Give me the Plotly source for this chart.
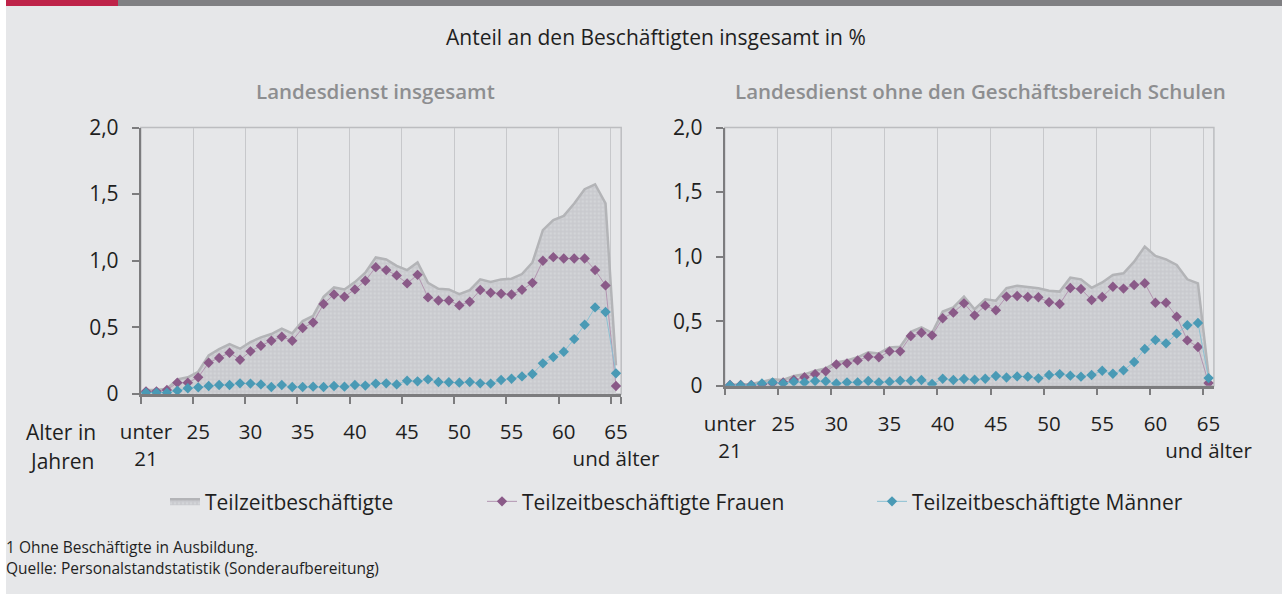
import plotly.graph_objects as go

# ---------------- data ----------------
categories = ["unter 21"] + [str(a) for a in range(21, 65)] + ["65 und älter"]
tick_cats = ["unter 21", "25", "30", "35", "40", "45", "50", "55", "60", "65 und älter"]
tick_text = ["unter<br>21", "25", "30", "35", "40", "45", "50", "55", "60", "65<br>und älter"]
y_vals = [0, 0.5, 1.0, 1.5, 2.0]
y_text = ["0", "0,5", "1,0", "1,5", "2,0"]

# Landesdienst insgesamt
gesamt_L = [0.03, 0.03, 0.04, 0.11, 0.125, 0.167, 0.29, 0.337, 0.375, 0.34, 0.39, 0.425, 0.45, 0.49,
            0.455, 0.547, 0.587, 0.73, 0.80, 0.785, 0.84, 0.91, 1.025, 1.01, 0.962, 0.93,
            0.987, 0.834, 0.79, 0.785, 0.75, 0.78, 0.86, 0.84, 0.86, 0.865, 0.9, 0.987, 1.23,
            1.305, 1.337, 1.43, 1.537, 1.574, 1.43, 0.215]
frauen_L = [0.02, 0.02, 0.03, 0.085, 0.085, 0.125, 0.235, 0.27, 0.31, 0.257, 0.32, 0.362, 0.40, 0.43,
            0.40, 0.495, 0.537, 0.675, 0.747, 0.73, 0.785, 0.85, 0.952, 0.93, 0.89, 0.83,
            0.894, 0.725, 0.702, 0.702, 0.665, 0.692, 0.78, 0.76, 0.752, 0.747, 0.782, 0.834, 1.0,
            1.027, 1.017, 1.017, 1.017, 0.93, 0.815, 0.06]
maenner_L = [0.01, 0.01, 0.01, 0.025, 0.043, 0.05, 0.06, 0.068, 0.068, 0.08, 0.078, 0.072, 0.052, 0.068,
             0.052, 0.052, 0.055, 0.052, 0.06, 0.055, 0.068, 0.063, 0.078, 0.08, 0.072,
             0.1, 0.095, 0.11, 0.09, 0.088, 0.085, 0.09, 0.08, 0.078, 0.105, 0.115, 0.132, 0.15,
             0.23, 0.277, 0.317, 0.412, 0.52, 0.65, 0.615, 0.155]

# Landesdienst ohne den Geschäftsbereich Schulen
gesamt_R = [0.008, 0.008, 0.013, 0.03, 0.049, 0.044, 0.075, 0.088, 0.116, 0.134, 0.18, 0.196, 0.22,
            0.258, 0.25, 0.297, 0.302, 0.418, 0.452, 0.41, 0.574, 0.607, 0.69, 0.592, 0.669, 0.659, 0.755,
            0.775, 0.767, 0.755, 0.736, 0.729, 0.837, 0.824, 0.758, 0.80, 0.858, 0.871, 0.961, 1.078,
            1.005, 0.979, 0.935, 0.824, 0.793, 0.08]
frauen_R = [0.005, 0.005, 0.005, 0.01, 0.02, 0.025, 0.044, 0.065, 0.09, 0.111, 0.165, 0.173, 0.196,
            0.225, 0.22, 0.266, 0.266, 0.385, 0.41, 0.39, 0.522, 0.566, 0.638, 0.545, 0.62, 0.584, 0.69,
            0.695, 0.687, 0.685, 0.646, 0.633, 0.757, 0.749, 0.664, 0.687, 0.767, 0.752, 0.78, 0.793,
            0.643, 0.643, 0.535, 0.351, 0.30, 0.02]
maenner_R = [0.003, 0.003, 0.003, 0.018, 0.026, 0.018, 0.031, 0.026, 0.036, 0.034, 0.018, 0.026, 0.026,
             0.036, 0.026, 0.031, 0.039, 0.039, 0.044, 0.013, 0.054, 0.044, 0.052, 0.047, 0.054, 0.075, 0.064,
             0.072, 0.07, 0.057, 0.083, 0.09, 0.078, 0.07, 0.083, 0.116, 0.093, 0.119, 0.183, 0.284,
             0.354, 0.328, 0.403, 0.468, 0.486, 0.059]

series_names = ["Teilzeitbeschäftigte", "Teilzeitbeschäftigte Frauen", "Teilzeitbeschäftigte Männer"]
title_text = "Anteil an den Beschäftigten insgesamt in %"
panel_titles = ["Landesdienst insgesamt", "Landesdienst ohne den Geschäftsbereich Schulen"]
x_caption = ["Alter in", "Jahren"]
footnotes = ["1 Ohne Beschäftigte in Ausbildung.", "Quelle: Personalstandstatistik (Sonderaufbereitung)"]

# ---------------- style ----------------
W, H = 1282, 594
FONT = "Open Sans"
BG = "#e6e7e9"
TXT = "#1f1f1f"
AXIS = "#7c7c7e"
GRID = "#c7c8cb"
AREA_LINE = "#b3b4b7"
PURPLE = "#8a5a88"
PURPLE_L = "#b395b1"
BLUE = "#4a9ab5"
BLUE_L = "#8cc0d2"


def px_x(p):
    return p / W


def px_y(p):
    return 1 - p / H


fig = go.Figure()

panels = [
    dict(xa="x", ya="y", g=gesamt_L, f=frauen_L, m=maenner_L, legend=True),
    dict(xa="x2", ya="y2", g=gesamt_R, f=frauen_R, m=maenner_R, legend=False),
]

for p in panels:
    fig.add_trace(go.Scatter(
        x=categories, y=p["g"], xaxis=p["xa"], yaxis=p["ya"], mode="lines",
        line=dict(color=AREA_LINE, width=2.5), fill="tozeroy", fillcolor="#cbccd0",
        fillpattern=dict(shape=".", fgcolor="#dedfe2", bgcolor="#c9cace", size=4, solidity=0.35),
        name=series_names[0], showlegend=p["legend"], legend="legend", hoverinfo="skip"))
    fig.add_trace(go.Scatter(
        x=categories, y=p["f"], xaxis=p["xa"], yaxis=p["ya"], mode="lines+markers",
        line=dict(color=PURPLE_L, width=1), marker=dict(symbol="diamond", size=8, color=PURPLE),
        name=series_names[1], showlegend=p["legend"], legend="legend2"))
    fig.add_trace(go.Scatter(
        x=categories, y=p["m"], xaxis=p["xa"], yaxis=p["ya"], mode="lines+markers",
        line=dict(color=BLUE_L, width=1), marker=dict(symbol="diamond", size=8, color=BLUE),
        name=series_names[2], showlegend=p["legend"], legend="legend3"))

xdoms = [[px_x(140.8), px_x(621.2)], [px_x(724.7), px_x(1213.9)]]
ydoms = [[px_y(394), px_y(127.5)], [px_y(385.7), px_y(127.5)]]

common_x = dict(
    type="category", categoryorder="array", categoryarray=categories,
    range=[-0.5, len(categories) - 0.5], tickson="boundaries",
    tickmode="array", tickvals=tick_cats, ticktext=tick_text, tickangle=0,
    ticks="outside", ticklen=7, tickwidth=1.5, tickcolor=AXIS,
    showgrid=True, gridcolor=GRID, gridwidth=1, automargin=False,
    showline=True, linecolor=AXIS, linewidth=2.5, zeroline=False,
    tickfont=dict(family=FONT, size=20.5, color=TXT), ticklabelstandoff=18,
)
common_y = dict(
    range=[0, 2.0], tickmode="array", tickvals=y_vals, ticktext=y_text,
    ticks="outside", ticklen=7, tickwidth=1.5, tickcolor=AXIS, automargin=False,
    showgrid=False, showline=True, linecolor=AXIS, linewidth=2, zeroline=False,
    tickfont=dict(family=FONT, size=21, color=TXT), ticklabelstandoff=9,
)

fig.update_layout(
    xaxis=dict(common_x, domain=xdoms[0], anchor="y"),
    yaxis=dict(common_y, domain=ydoms[0], anchor="x"),
    xaxis2=dict(common_x, domain=xdoms[1], anchor="y2"),
    yaxis2=dict(common_y, domain=ydoms[1], anchor="x2"),
)

leg_common = dict(orientation="h", yanchor="middle", xanchor="left", bgcolor="rgba(0,0,0,0)",
                  font=dict(family=FONT, size=21, color=TXT), borderwidth=0)
fig.update_layout(
    legend=dict(leg_common, x=px_x(165), y=px_y(501.7)),
    legend2=dict(leg_common, x=px_x(482), y=px_y(501.7)),
    legend3=dict(leg_common, x=px_x(872), y=px_y(501.7)),
)

shapes = [
    dict(type="rect", xref="paper", yref="paper", x0=0, x1=px_x(6), y0=0, y1=1,
         fillcolor="white", line=dict(width=0), layer="below"),
    dict(type="rect", xref="paper", yref="paper", x0=px_x(6), x1=px_x(118), y0=px_y(6), y1=1,
         fillcolor="#be2349", line=dict(width=0)),
    dict(type="rect", xref="paper", yref="paper", x0=px_x(118), x1=1, y0=px_y(6), y1=1,
         fillcolor="#808083", line=dict(width=0)),
]
for xa, ya in (("x", "y"), ("x2", "y2")):
    shapes.append(dict(type="rect", xref=f"{xa} domain", yref=f"{ya} domain", x0=0, x1=1, y0=0, y1=1,
                       line=dict(color="#bcbdc0", width=1.5), layer="below"))

annotations = [
    dict(text=title_text, x=px_x(656), y=px_y(37), xref="paper", yref="paper", showarrow=False,
         xanchor="center", yanchor="middle", font=dict(family=FONT, size=21, color=TXT)),
    dict(text=panel_titles[0], x=px_x(375), y=px_y(91), xref="paper", yref="paper", showarrow=False,
         xanchor="center", yanchor="middle", font=dict(family=FONT, size=20.5, color="#8d8e90", weight=600)),
    dict(text=panel_titles[1], x=px_x(980), y=px_y(91), xref="paper", yref="paper", showarrow=False,
         xanchor="center", yanchor="middle", font=dict(family=FONT, size=20.5, color="#8d8e90", weight=600)),
    dict(text=x_caption[0], x=px_x(61), y=px_y(432), xref="paper", yref="paper", showarrow=False,
         xanchor="center", yanchor="middle", font=dict(family=FONT, size=21, color=TXT)),
    dict(text=x_caption[1], x=px_x(61), y=px_y(461), xref="paper", yref="paper", showarrow=False,
         xanchor="center", yanchor="middle", font=dict(family=FONT, size=21, color=TXT)),
    dict(text=footnotes[0], x=px_x(4), y=px_y(547), xref="paper", yref="paper", showarrow=False,
         xanchor="left", yanchor="middle", font=dict(family=FONT, size=15.5, color=TXT)),
    dict(text=footnotes[1], x=px_x(4), y=px_y(568), xref="paper", yref="paper", showarrow=False,
         xanchor="left", yanchor="middle", font=dict(family=FONT, size=15.5, color=TXT)),
]

fig.update_layout(
    width=W, height=H, autosize=False,
    margin=dict(l=0, r=0, t=0, b=0, pad=0),
    paper_bgcolor=BG, plot_bgcolor=BG,
    font=dict(family=FONT, color=TXT),
    shapes=shapes, annotations=annotations,
    hovermode=False,
)

fig.write_html(
    "out.html",
    config={"displayModeBar": False},
    post_script="document.body.style.margin='0';document.body.style.overflow='hidden';",
)
